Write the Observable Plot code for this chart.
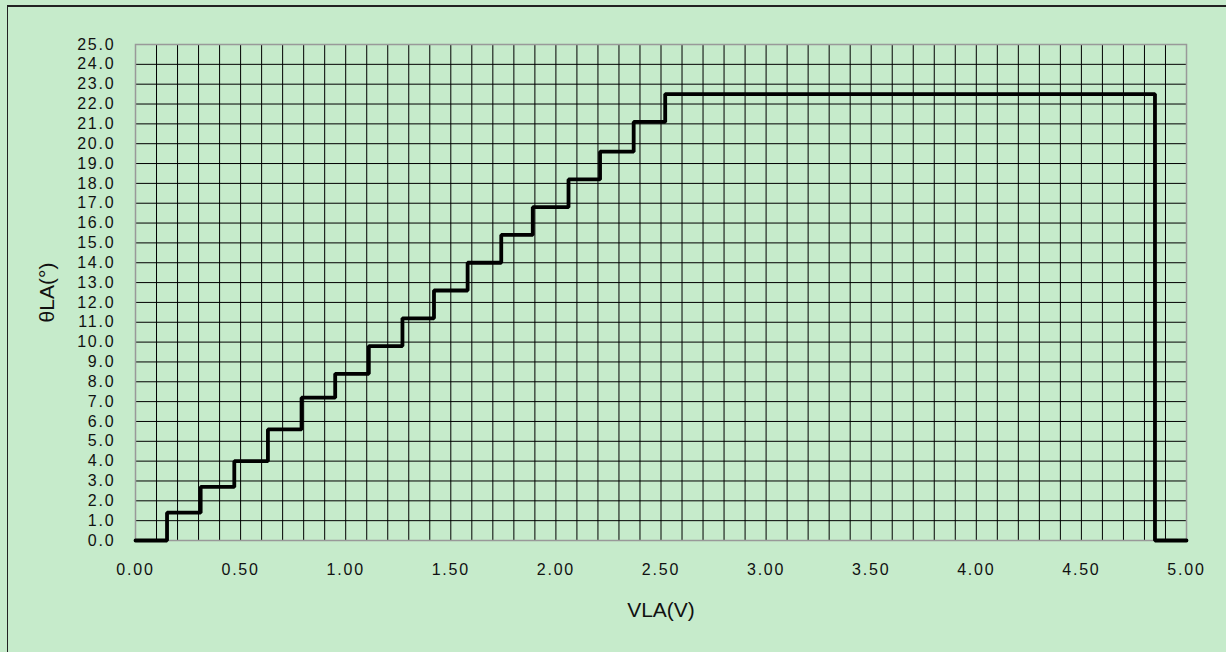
<!DOCTYPE html>
<html>
<head>
<meta charset="utf-8">
<script src="https://cdn.jsdelivr.net/npm/d3@7"></script>
<script src="https://cdn.jsdelivr.net/npm/@observablehq/plot@0.6"></script>
<style>
  html, body { margin: 0; padding: 0; background: #c6ebcb; }
  #wrap { position: relative; width: 1226px; height: 652px; overflow: hidden; background: #c6ebcb; }
  #border { position: absolute; left: 7px; top: 5px; width: 1240px; height: 700px; border-left: 1.5px solid #222; border-top: 2px solid #222; box-sizing: border-box; }
  #chart { position: absolute; left: 0; top: 0; }
  #chart g[aria-label$="tick label"] { font-size: 16px; letter-spacing: 1.8px; fill: #111; }
</style>
</head>
<body>
<div id="wrap"><div id="border"></div><div id="chart"></div></div>
<script>
// Step points (x = VLA in V, y = θLA in degrees), step-after
const vla   = [0, 0.15, 0.31, 0.47, 0.63, 0.79, 0.95, 1.11, 1.27, 1.42, 1.58, 1.74, 1.89, 2.06, 2.21, 2.37, 2.52, 4.85, 5.0];
const theta = [0, 1.4, 2.7, 4.0, 5.6, 7.2, 8.4, 9.8, 11.2, 12.6, 14.0, 15.4, 16.8, 18.2, 19.6, 21.1, 22.5, 0, 0];
const xTicks = [0, 0.5, 1, 1.5, 2, 2.5, 3, 3.5, 4, 4.5, 5];
const yTicks = d3.range(0, 26, 1);
const xGrid = d3.range(0, 51, 1).map(i => i / 10);
const xLabel = "VLA(V)";
const yLabel = "θLA(°)";

const data = vla.map((v, i) => ({x: v, y: theta[i]}));

const chart = Plot.plot({
  width: 1226,
  height: 652,
  marginLeft: 135,
  marginRight: 40,
  marginTop: 44,
  marginBottom: 112,
  style: {background: "transparent", fontFamily: "'Liberation Sans', Arial, sans-serif", fontSize: "16px", color: "#000"},
  x: {domain: [0, 5]},
  y: {domain: [0, 25]},
  marks: [
    Plot.ruleX(xGrid, {stroke: "#000", strokeWidth: 1}),
    Plot.ruleY(yTicks, {stroke: "#000", strokeWidth: 1}),
    Plot.frame({stroke: "#999", strokeWidth: 1.5}),
    Plot.axisX(xTicks, {tickSize: 0, tickPadding: 23, tickFormat: d => d.toFixed(2), label: null}),
    Plot.axisY(yTicks, {tickSize: 0, tickPadding: 20, tickFormat: d => d.toFixed(1), label: null}),
    Plot.line(data, {x: "x", y: "y", curve: "step-after", stroke: "#000", strokeWidth: 3.8, strokeLinejoin: "miter"}),
    Plot.text([xLabel], {frameAnchor: "bottom", dy: 70, lineAnchor: "middle", textAnchor: "middle", fontSize: 21, fill: "#111", style: {letterSpacing: "1px"}}),
    Plot.text([yLabel], {frameAnchor: "left", dx: -88, rotate: -90, lineAnchor: "middle", textAnchor: "middle", fontSize: 21, fill: "#111"})
  ]
});
document.getElementById("chart").appendChild(chart);
</script>
</body>
</html>
